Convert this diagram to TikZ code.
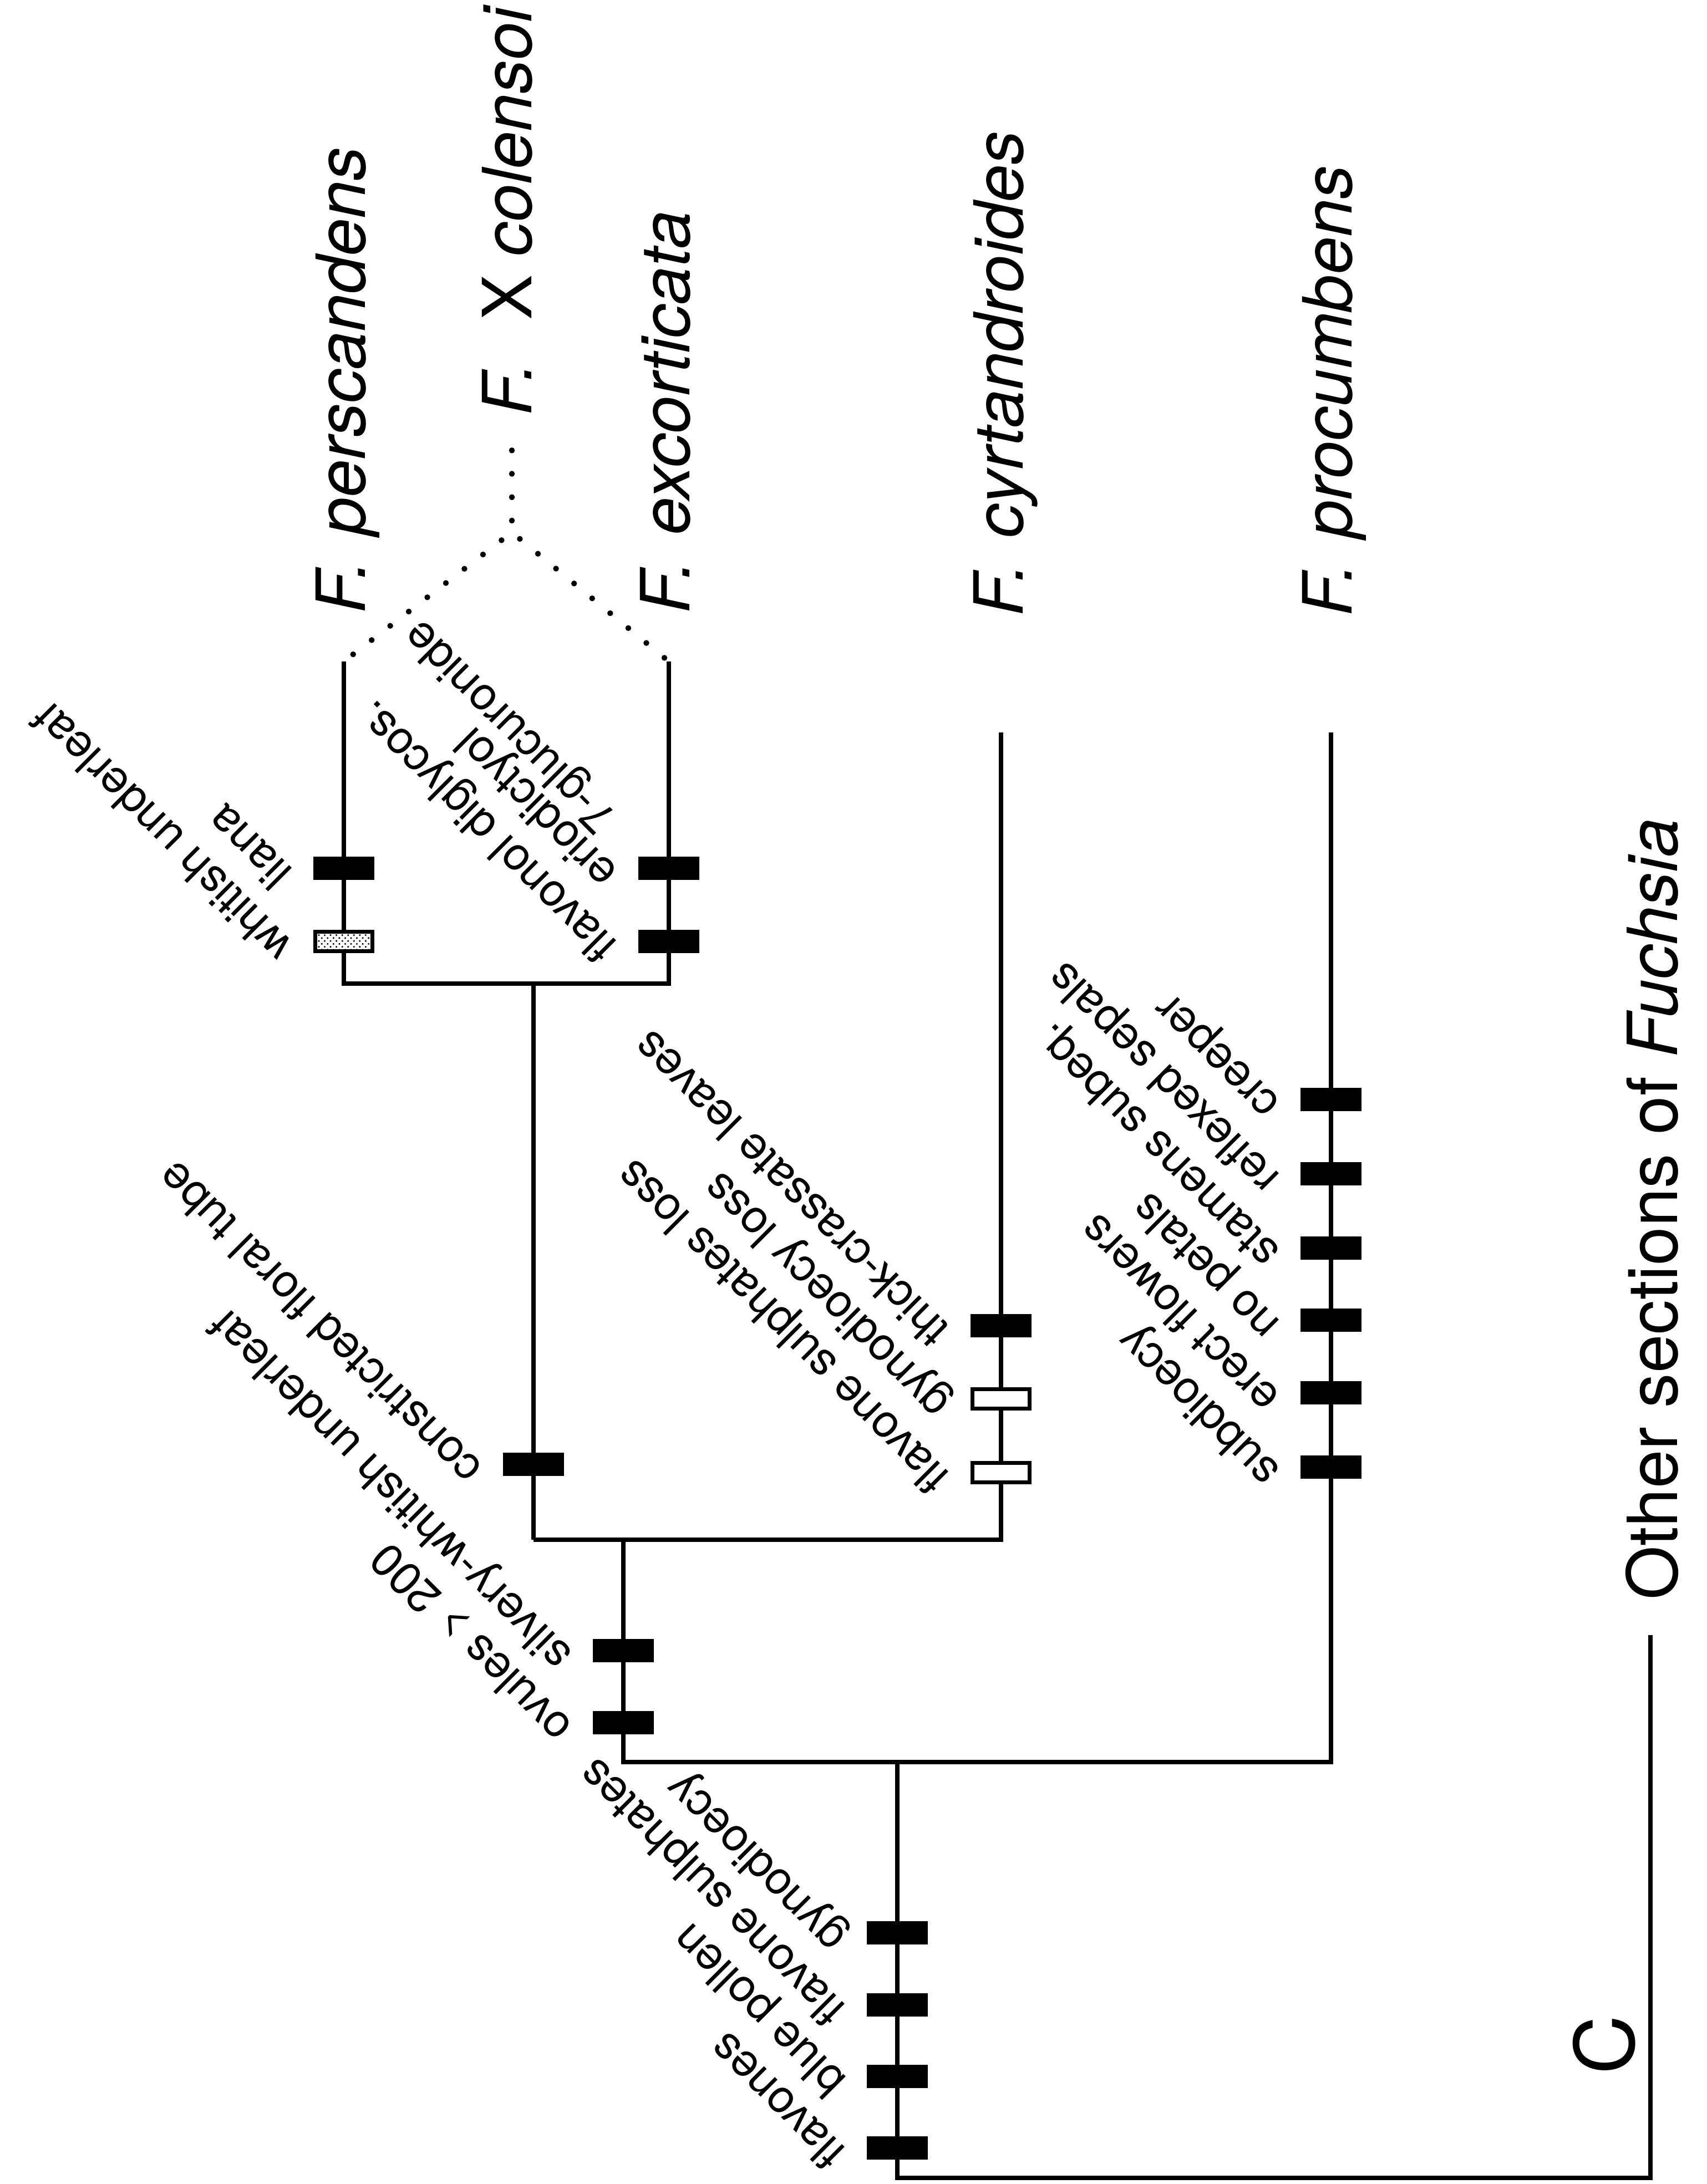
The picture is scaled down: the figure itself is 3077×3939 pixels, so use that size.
\documentclass[tikz,border=0pt]{standalone}
\usepackage{fontspec}
\setmainfont{TeX Gyre Heros}
\usetikzlibrary{patterns,calc}
\begin{document}
\begin{tikzpicture}[x=0.01cm,y=-0.01cm,
  branch/.style={line width=2.3pt},
  dotline/.style={line width=3pt, line cap=round, dash pattern=on 0pt off 12pt, dash phase=6pt},
  blackbar/.style={fill=black, draw=none, minimum width=1.1cm, minimum height=0.42cm, inner sep=0pt},
  whitebar/.style={fill=white, draw=black, line width=2pt, minimum width=1.03cm, minimum height=0.35cm, inner sep=0pt},
  stipplebar/.style={draw=black, line width=2pt, minimum width=1.03cm, minimum height=0.35cm, inner sep=0pt, preaction={fill=white}, pattern=crosshatch dots},
  species/.style={rotate=90, anchor=base west, inner sep=0pt, font=\fontsize{34.8}{40}\selectfont\itshape},
  lab/.style={rotate=135, anchor=mid west, inner sep=0pt, font=\fontsize{23.5}{26}\selectfont},
]
\fill[white] (0,0) rectangle (3077,3939);
\useasboundingbox (0,0) rectangle (3077,3939);

% tree coordinates
\coordinate (pT) at (620,1193);
\coordinate (pJ) at (620,1774);
\coordinate (eJ) at (1206,1774);
\coordinate (eT) at (1206,1193);
\coordinate (s1T) at (962,1774);
\coordinate (s1B) at (962,2777);
\coordinate (cJ) at (1805,2777);
\coordinate (cT) at (1805,1321);
\coordinate (s2T) at (1124,2777);
\coordinate (s2B) at (1124,3178);
\coordinate (qJ) at (2400,3178);
\coordinate (qT) at (2400,1321);
\coordinate (rT) at (1618,3178);
\coordinate (rB) at (1618,3928);
\coordinate (oB) at (2976,3928);
\coordinate (oT) at (2976,2949);
\coordinate (apex) at (923,960);
\coordinate (colB) at (923,775);

% branches
\draw[branch] (pT) -- (pJ) -- (eJ) -- (eT);
\draw[branch] (s1T) -- (s1B);
\draw[branch] (s1B) -- (cJ) -- (cT);
\draw[branch] (s2T) -- (s2B) -- (qJ) -- (qT);
\draw[branch] (rT) -- (rB) -- (oB) -- (oT);
\draw[dotline] (pT) -- (apex) -- (eT);
\draw[dotline] (apex) -- (colB);

% character bars
\node[blackbar] (pb1) at (620,1566) {};
\node[stipplebar] (pb2) at (620,1698) {};
\node[blackbar] (eb1) at (1206,1566) {};
\node[blackbar] (eb2) at (1206,1698) {};
\node[blackbar] (sb1) at (962,2641) {};
\node[blackbar] (cb1) at (1805,2391) {};
\node[whitebar] (cb2) at (1805,2523) {};
\node[whitebar] (cb3) at (1805,2656) {};
\node[blackbar] (tb1) at (1124,2977) {};
\node[blackbar] (tb2) at (1124,3107) {};
\node[blackbar] (qb1) at (2400,1983) {};
\node[blackbar] (qb2) at (2400,2117) {};
\node[blackbar] (qb3) at (2400,2251) {};
\node[blackbar] (qb4) at (2400,2381) {};
\node[blackbar] (qb5) at (2400,2512) {};
\node[blackbar] (qb6) at (2400,2646) {};
\node[blackbar] (rb1) at (1618,3486) {};
\node[blackbar] (rb2) at (1618,3616) {};
\node[blackbar] (rb3) at (1618,3745) {};
\node[blackbar] (rb4) at (1618,3874) {};

% character labels
\node[lab] (lpb1) at ($(pb1.west)+(-40,10)$) {liana};
\node[lab] (lpb2) at ($(pb2.west)+(-40,10)$) {whitish underleaf};
\node[lab] (leb1) at ($(eb1.west)+(-40,10)$) {eriodictyol};
\node[lab] (leb1b) at ($(eb1.west)+(-43,-90)$) {7-glucuronide};
\node[lab] (leb2) at ($(eb2.west)+(-40,10)$) {flavonol diglycos.};
\node[lab] (lsb1) at ($(sb1.west)+(-40,10)$) {constricted floral tube};
\node[lab] (lcb1) at ($(cb1.west)+(-40,10)$) {thick-crassate leaves};
\node[lab] (lcb2) at ($(cb2.west)+(-40,10)$) {gynodioecy loss};
\node[lab] (lcb3) at ($(cb3.west)+(-40,10)$) {flavone sulphates loss};
\node[lab] (ltb1) at ($(tb1.west)+(-40,10)$) {silvery-whitish underleaf};
\node[lab] (ltb2) at ($(tb2.west)+(-40,10)$) {ovules > 200};
\node[lab] (lqb1) at ($(qb1.west)+(-40,10)$) {creeper};
\node[lab] (lqb2) at ($(qb2.west)+(-40,10)$) {reflexed sepals};
\node[lab] (lqb3) at ($(qb3.west)+(-40,10)$) {stamens subeq.};
\node[lab] (lqb4) at ($(qb4.west)+(-40,10)$) {no petals};
\node[lab] (lqb5) at ($(qb5.west)+(-40,10)$) {erect flowers};
\node[lab] (lqb6) at ($(qb6.west)+(-40,10)$) {subdioecy};
\node[lab] (lrb1) at ($(rb1.west)+(-40,10)$) {gynodioecy};
\node[lab] (lrb2) at ($(rb2.west)+(-40,10)$) {flavone sulphates};
\node[lab] (lrb3) at ($(rb3.west)+(-40,10)$) {blue pollen};
\node[lab] (lrb4) at ($(rb4.west)+(-40,10)$) {flavones};

% species
\node[species] (sper) at (658,1107) {F.\hspace{0.1em} perscandens};
\node[species] (scol) at (958,750) {F.\hspace{0.35em} {\upshape X} colensoi};
\node[species] (sexc) at (1243,1107) {F.\hspace{0.1em} excorticata};
\node[species] (scyr) at (1844,1112) {F.\hspace{0.1em} cyrtandroides};
\node[species] (spro) at (2437,1112) {F.\hspace{0.1em} procumbens};
\node[rotate=90, anchor=base west, inner sep=0pt, font=\fontsize{35.5}{40}\selectfont] (other) at (3024,2886) {Other sections of \textit{Fuchsia}};
\node[rotate=90, inner sep=0pt, font=\fontsize{42}{48}\selectfont] (clab) at (2893,3688) {C};
\end{tikzpicture}
\end{document}
